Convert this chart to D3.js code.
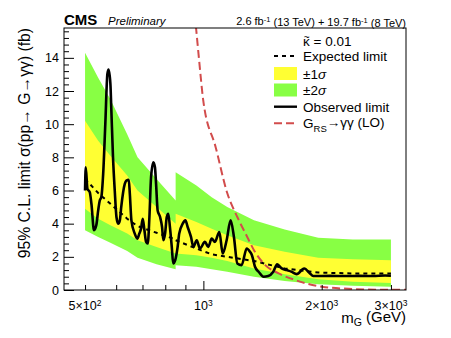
<!DOCTYPE html>
<html>
<head>
<meta charset="utf-8">
<script src="https://cdn.jsdelivr.net/npm/d3@7"></script>
<style>
body { margin: 0; background: #fff; }
text { font-family: "Liberation Sans", Arial, sans-serif; fill: #000; }
</style>
</head>
<body>
<script>

// expected limit bands (GeV, fb) - 850 twice because of the step
var bandMass = [500, 540, 580, 640, 680, 760, 850, 850, 960, 1050, 1150, 1345, 1610, 1960, 2400, 3000];
var bandUp2  = [14.3, 12.8, 11.5, 9.4, 8.0, 6.7, 5.4, 7.1, 6.3, 5.6, 5.0, 4.2, 3.65, 3.15, 3.05, 3.05];
var bandUp1  = [10.2, 9.0, 8.1, 6.9, 6.0, 5.0, 4.0, 4.6, 4.1, 3.7, 3.3, 2.7, 2.3, 1.95, 1.85, 1.8];
var expected = [6.7, 5.85, 5.2, 4.3, 3.85, 3.45, 3.05, 3.0, 2.5, 2.15, 2.0, 1.75, 1.3, 1.05, 1.0, 1.0];
var bandDn1  = [4.9, 4.3, 3.9, 3.4, 3.0, 2.6, 2.2, 2.2, 2.1, 1.95, 1.75, 1.3, 0.95, 0.65, 0.5, 0.42];
var bandDn2  = [3.6, 3.2, 2.85, 2.35, 1.95, 1.55, 1.25, 1.5, 1.4, 1.25, 1.1, 0.8, 0.55, 0.35, 0.25, 0.2];

// observed limit
var obsMass = [500, 502, 507, 514, 519, 527, 534, 540, 545, 550, 556, 563, 570, 574, 580, 583, 589, 595, 601, 607,
	613, 618, 631, 637, 646, 650, 656, 669, 679, 687, 694, 701, 708, 715, 722, 729, 736, 746, 753, 758,
	765, 776, 785, 791, 799, 807, 814, 822, 831, 838, 848, 860, 868, 886, 900, 912, 930, 943, 962, 980,
	1009, 1029, 1050, 1070, 1098, 1120, 1146, 1173, 1196, 1220, 1251, 1289, 1314, 1329, 1353, 1382, 1423, 1462, 1506, 1541,
	1582, 1629, 1677, 1727, 1805, 1867, 1903, 2100, 2300, 2500, 2700, 2900, 3000];
var obsLimit = [6.0, 7.4, 6.1, 5.9, 5.2, 3.6, 3.9, 4.8, 5.4, 5.6, 7.0, 10.0, 13.05, 13.3, 12.45, 11.0, 8.0, 6.0, 4.4, 4.0,
	4.2, 5.0, 6.4, 6.6, 6.65, 5.8, 4.2, 3.4, 3.1, 3.4, 3.7, 4.3, 3.6, 2.9, 2.8, 4.4, 6.8, 7.7, 7.4, 6.4,
	4.8, 4.4, 3.8, 3.0, 3.4, 4.4, 4.6, 3.8, 2.6, 1.6, 1.8, 2.6, 3.4, 4.0, 4.2, 3.8, 3.2, 2.6, 3.0, 2.5,
	2.9, 2.6, 3.1, 2.9, 3.5, 2.2, 3.0, 4.2, 3.2, 1.6, 1.5, 2.5, 2.3, 2.1, 1.4, 1.1, 0.8, 0.84, 1.1, 1.55,
	1.3, 1.2, 1.1, 0.96, 1.3, 1.0, 0.84, 0.85, 0.84, 0.85, 0.84, 0.87, 0.86];

// G_RS -> gamma gamma (LO) theory
var theoryMass = [930, 958, 975, 999, 1075, 1150, 1220, 1293, 1345, 1437, 1554, 1713, 2003, 2401, 2800, 3277];
var theoryXsec = [18.8, 15.8, 13.9, 11.45, 8.6, 5.85, 4.4, 3.2, 2.4, 1.5, 1.0, 0.6, 0.2, 0.06, 0.02, 0.01];

// axis ticks
var yTicks = [0, 2, 4, 6, 8, 10, 12, 14];
var xMinorTicks = [500, 600, 700, 800, 900, 2000, 3000];
var xMajorTicks = [1000];
var xLabelValues = [500, 1000, 2000, 3000];
var xLabelMant = ["5\u00d710", "10", "2\u00d710", "3\u00d710"];
var xLabelExp = ["2", "3", "3", "3"];

var width = 451, height = 338;
var plotL = 64, plotR = 406, plotT = 28, plotB = 290;

var svg = d3.select("body").append("svg")
	.attr("width", width)
	.attr("height", height);

var x = d3.scaleLog().domain([442, 3277]).range([plotL, plotR]);
var y = d3.scaleLinear().domain([0, 15.8]).range([plotB, plotT]);

svg.append("clipPath").attr("id", "frame")
	.append("rect")
	.attr("x", plotL).attr("y", plotT)
	.attr("width", plotR - plotL).attr("height", plotB - plotT);

var plot = svg.append("g").attr("clip-path", "url(#frame)");

var rows = bandMass.map(function(m, i) {
	return {m: m, up2: bandUp2[i], up1: bandUp1[i], exp: expected[i], dn1: bandDn1[i], dn2: bandDn2[i]};
});

// bands
plot.append("path")
	.datum(rows)
	.attr("fill", "#88ff44")
	.attr("d", d3.area().x(function(d) { return x(d.m); })
		.y0(function(d) { return y(d.dn2); })
		.y1(function(d) { return y(d.up2); }));

plot.append("path")
	.datum(rows)
	.attr("fill", "#ffff33")
	.attr("d", d3.area().x(function(d) { return x(d.m); })
		.y0(function(d) { return y(d.dn1); })
		.y1(function(d) { return y(d.up1); }));

// expected
plot.append("path")
	.datum(rows)
	.attr("fill", "none")
	.attr("stroke", "#000")
	.attr("stroke-width", 2)
	.attr("stroke-dasharray", "4,4")
	.attr("d", d3.line().x(function(d) { return x(d.m); }).y(function(d) { return y(d.exp); }));

// theory
var theory = theoryMass.map(function(m, i) { return [m, theoryXsec[i]]; });
plot.append("path")
	.datum(theory)
	.attr("fill", "none")
	.attr("stroke", "#d24c4c")
	.attr("stroke-width", 2)
	.attr("stroke-dasharray", "8,4")
	.attr("d", d3.line().curve(d3.curveMonotoneX)
		.x(function(d) { return x(d[0]); }).y(function(d) { return y(d[1]); }));

// observed
var obs = obsMass.map(function(m, i) { return [m, obsLimit[i]]; });
plot.append("path")
	.datum(obs)
	.attr("fill", "none")
	.attr("stroke", "#000")
	.attr("stroke-width", 2.6)
	.attr("stroke-linejoin", "round")
	.attr("d", d3.line().curve(d3.curveMonotoneX)
		.x(function(d) { return x(d[0]); }).y(function(d) { return y(d[1]); }));

// y axis, ticks pointing in
var yMinor = d3.range(0, 15.8, 0.4).filter(function(v) { return Math.abs(v / 2 - Math.round(v / 2)) > 0.01; });

svg.append("g")
	.attr("transform", "translate(" + plotL + ",0)")
	.call(d3.axisLeft(y).tickValues(yMinor).tickSizeInner(-5).tickSizeOuter(0).tickFormat(""))
	.call(function(g) { g.select(".domain").remove(); });

var yAx = svg.append("g")
	.attr("transform", "translate(" + plotL + ",0)")
	.call(d3.axisLeft(y).tickValues(yTicks).tickSizeInner(-10).tickSizeOuter(0).tickPadding(5))
	.call(function(g) { g.select(".domain").remove(); });
yAx.selectAll("text").style("font-size", "12.5px").attr("fill", "#000");

// x axis
svg.append("g")
	.attr("transform", "translate(0," + plotB + ")")
	.call(d3.axisBottom(x).tickValues(xMinorTicks).tickSizeInner(-5).tickSizeOuter(0).tickFormat(""))
	.call(function(g) { g.select(".domain").remove(); });
svg.append("g")
	.attr("transform", "translate(0," + plotB + ")")
	.call(d3.axisBottom(x).tickValues(xMajorTicks).tickSizeInner(-9).tickSizeOuter(0).tickFormat(""))
	.call(function(g) { g.select(".domain").remove(); });
svg.selectAll(".tick line").attr("stroke", "#000");

var xl = svg.selectAll(".xlab")
	.data(xLabelValues)
	.enter()
	.append("text")
	.attr("class", "xlab")
	.attr("x", function(d) { return x(d); })
	.attr("y", 310)
	.attr("text-anchor", "middle")
	.style("font-size", "12.5px");
xl.append("tspan").text(function(d, i) { return xLabelMant[i]; });
xl.append("tspan").attr("dy", "-0.45em").style("font-size", "8.5px").text(function(d, i) { return xLabelExp[i]; });

// frame
svg.append("rect")
	.attr("x", plotL).attr("y", plotT)
	.attr("width", plotR - plotL).attr("height", plotB - plotT)
	.attr("fill", "none").attr("stroke", "#000").attr("stroke-width", 1);

// titles
svg.append("text").attr("x", plotL).attr("y", 24.5)
	.style("font-size", "15px").style("font-weight", "bold").text("CMS");
svg.append("text").attr("x", 108).attr("y", 24.5)
	.style("font-size", "11.5px").style("font-style", "italic").text("Preliminary");

var lumi = svg.append("text").attr("x", plotR).attr("y", 24.5)
	.attr("text-anchor", "end").style("font-size", "11px");
lumi.append("tspan").text("2.6 fb");
lumi.append("tspan").attr("dy", "-0.4em").style("font-size", "7.5px").text("-1");
lumi.append("tspan").attr("dy", "0.4em").text(" (13 TeV) + 19.7 fb");
lumi.append("tspan").attr("dy", "-0.4em").style("font-size", "7.5px").text("-1");
lumi.append("tspan").attr("dy", "0.4em").text(" (8 TeV)");

svg.append("text")
	.attr("transform", "translate(30," + plotT + ") rotate(-90)")
	.attr("text-anchor", "end")
	.style("font-size", "15.7px")
	.text("95% C.L. limit \u03c3(pp\u2192 G\u2192\u03b3\u03b3) (fb)");

var xt = svg.append("text").attr("x", plotR).attr("y", 323)
	.attr("text-anchor", "end").style("font-size", "15px");
xt.append("tspan").text("m");
xt.append("tspan").attr("dy", "0.3em").style("font-size", "10.5px").text("G");
xt.append("tspan").attr("dy", "-0.3em").text(" (GeV)");

// legend
var lx0 = 274, lx1 = 297, ltx = 303;
var fs = "13.5px";

svg.append("text").attr("x", ltx).attr("y", 46).style("font-size", fs).text("\u03ba = 0.01");
svg.append("text").attr("x", ltx + 0.8).attr("y", 40.5).style("font-size", "10px").text("~");

function legendText(yc) {
	return svg.append("text").attr("x", ltx).attr("y", yc + 5).style("font-size", fs);
}

var yc = 56;
svg.append("line").attr("x1", lx0).attr("x2", lx1).attr("y1", yc).attr("y2", yc)
	.attr("stroke", "#000").attr("stroke-width", 2).attr("stroke-dasharray", "4,4");
legendText(yc).text("Expected limit");

yc = 73.5;
svg.append("rect").attr("x", lx0).attr("y", yc - 6.5).attr("width", lx1 - lx0).attr("height", 13).attr("fill", "#ffff33");
var t1 = legendText(yc);
t1.append("tspan").text("\u00b11");
t1.append("tspan").style("font-style", "italic").text("\u03c3");

yc = 90;
svg.append("rect").attr("x", lx0).attr("y", yc - 6.5).attr("width", lx1 - lx0).attr("height", 13).attr("fill", "#88ff44");
var t2 = legendText(yc);
t2.append("tspan").text("\u00b12");
t2.append("tspan").style("font-style", "italic").text("\u03c3");

yc = 106.7;
svg.append("line").attr("x1", lx0).attr("x2", lx1).attr("y1", yc).attr("y2", yc)
	.attr("stroke", "#000").attr("stroke-width", 2.4);
legendText(yc).text("Observed limit");

yc = 123.3;
svg.append("line").attr("x1", lx0).attr("x2", lx1).attr("y1", yc).attr("y2", yc)
	.attr("stroke", "#d24c4c").attr("stroke-width", 2).attr("stroke-dasharray", "8,4");
var t3 = legendText(yc);
t3.append("tspan").text("G");
t3.append("tspan").attr("dy", "0.35em").style("font-size", "9.5px").text("RS");
t3.append("tspan").attr("dy", "-0.35em").text("\u2192\u03b3\u03b3 (LO)");

</script>
</body>
</html>
